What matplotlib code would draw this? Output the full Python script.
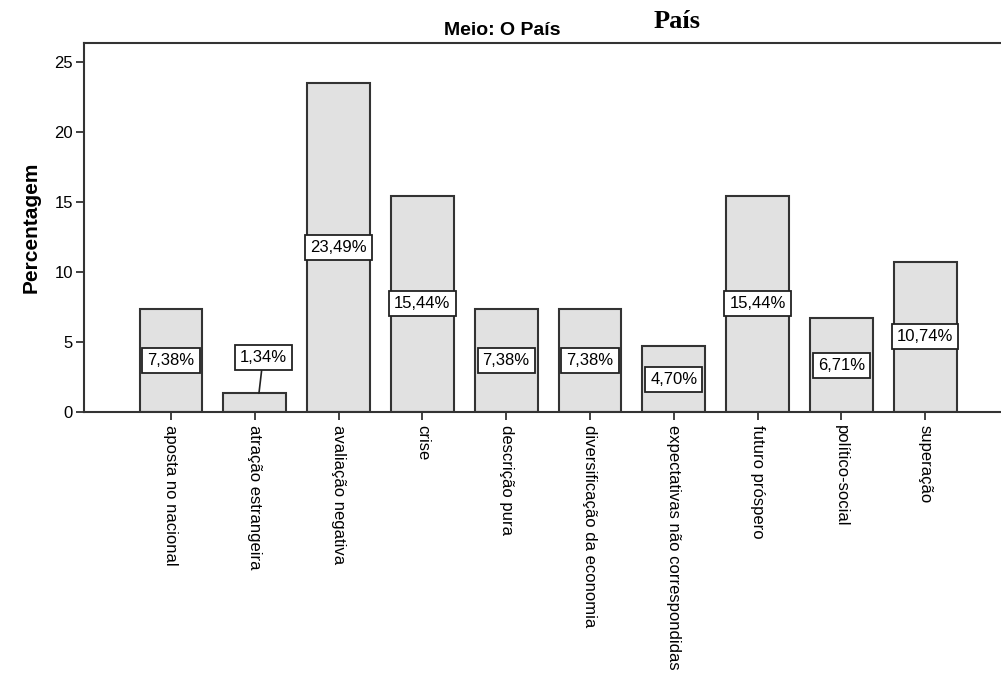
import matplotlib
matplotlib.use("Agg")
import matplotlib.pyplot as plt

categorias = ["aposta no nacional", "atração estrangeira", "avaliação negativa", "crise",
              "descrição pura", "diversificação da economia", "expectativas não correspondidas",
              "futuro próspero", "político-social", "superação"]
percentagens = [7.38, 1.34, 23.49, 15.44, 7.38, 7.38, 4.70, 15.44, 6.71, 10.74]
rotulos = ["7,38%", "1,34%", "23,49%", "15,44%", "7,38%", "7,38%", "4,70%", "15,44%", "6,71%", "10,74%"]
yticks = [0, 5, 10, 15, 20, 25]

plt.rcParams['font.family'] = ['Liberation Sans', 'DejaVu Sans']

fig = plt.figure(figsize=(10.01, 6.79), dpi=100)
ax = fig.add_axes([0.0839, 0.3932, 0.9161, 0.5435])

x = list(range(len(categorias)))
ax.bar(x, percentagens, width=0.75, color="#e1e1e1", edgecolor="#333333", linewidth=1.5, zorder=2)

caixa = dict(boxstyle="square,pad=0.3", fc="white", ec="#222222", lw=1.3)
for i, (v, t) in enumerate(zip(percentagens, rotulos)):
    if v < 2:
        ax.annotate(t, xy=(i + 0.05, v), xytext=(i + 0.1, 3.9), ha="center", va="center",
                    fontsize=12, bbox=caixa, zorder=3,
                    arrowprops=dict(arrowstyle="-", color="#222222", lw=1.2, shrinkA=0, shrinkB=0))
    else:
        ax.text(i, v / 2, t, ha="center", va="center", fontsize=12, bbox=caixa, zorder=3)

ax.set_xlim(-1.038, 9.905)
ax.set_ylim(0, 26.36)
ax.set_yticks(yticks)
ax.set_xticks(x)
ax.set_xticklabels(categorias, rotation=270, ha="center", va="top", fontsize=12)
ax.tick_params(axis="both", direction="out", length=6, width=1.3, color="#333333", labelsize=12)
ax.tick_params(axis="x", pad=3)
ax.tick_params(axis="y", pad=2)
for s in ["left", "top", "bottom"]:
    ax.spines[s].set_color("#333333")
    ax.spines[s].set_linewidth(1.5)
ax.spines["right"].set_visible(False)

ax.set_ylabel("Percentagem", fontsize=15, fontweight="bold", labelpad=10)
fig.text(0.502, 0.955, "Meio: O País", fontsize=14, fontweight="bold", ha="center", va="center")
fig.text(0.676, 0.968, "País", family="Liberation Serif", fontsize=19, fontweight="bold",
         ha="center", va="center")

plt.savefig("out.png", dpi=100)
plt.close()
